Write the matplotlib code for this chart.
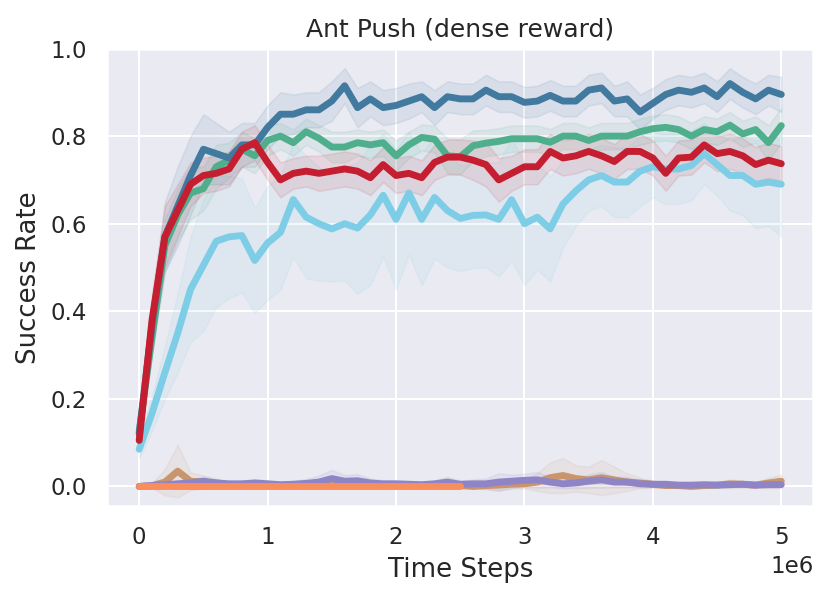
import numpy as np
import matplotlib
matplotlib.use('Agg')
import matplotlib.pyplot as plt
import seaborn as sns

# time axis, 0 .. 5e6 in steps of 1e5
steps = np.arange(51) * 1e5

# mean success rate per method
dark_blue = [0.12, 0.37, 0.57, 0.64, 0.71, 0.77, 0.76, 0.75, 0.78, 0.78,
             0.82, 0.85, 0.85, 0.86, 0.86, 0.88, 0.915, 0.865, 0.885, 0.865,
             0.87, 0.88, 0.89, 0.865, 0.89, 0.885, 0.885, 0.905, 0.89, 0.89,
             0.877, 0.88, 0.893, 0.88, 0.88, 0.905, 0.91, 0.88, 0.885, 0.855,
             0.875, 0.895, 0.905, 0.90, 0.91, 0.89, 0.92, 0.90, 0.885, 0.905,
             0.895]
green = [0.125, 0.34, 0.55, 0.62, 0.67, 0.68, 0.73, 0.745, 0.77, 0.755,
         0.79, 0.80, 0.785, 0.81, 0.795, 0.775, 0.775, 0.785, 0.78, 0.785,
         0.755, 0.78, 0.797, 0.793, 0.755, 0.753, 0.778, 0.784, 0.788, 0.794,
         0.794, 0.794, 0.786, 0.80, 0.80, 0.79, 0.80, 0.80, 0.80, 0.81,
         0.817, 0.82, 0.815, 0.80, 0.815, 0.81, 0.825, 0.805, 0.815, 0.785,
         0.824]
red = [0.105, 0.38, 0.57, 0.63, 0.69, 0.71, 0.715, 0.725, 0.77, 0.785,
       0.74, 0.70, 0.715, 0.72, 0.715, 0.72, 0.725, 0.72, 0.705, 0.735,
       0.71, 0.715, 0.705, 0.74, 0.752, 0.752, 0.745, 0.735, 0.70, 0.715,
       0.73, 0.73, 0.765, 0.75, 0.755, 0.765, 0.755, 0.742, 0.765, 0.765,
       0.75, 0.715, 0.75, 0.752, 0.78, 0.76, 0.765, 0.755, 0.735, 0.745,
       0.737]
light_blue = [0.085, 0.167, 0.26, 0.35, 0.45, 0.505, 0.56, 0.57, 0.573, 0.516,
              0.556, 0.58, 0.655, 0.615, 0.60, 0.588, 0.60, 0.59, 0.62, 0.665,
              0.61, 0.67, 0.61, 0.66, 0.63, 0.612, 0.619, 0.62, 0.61, 0.655,
              0.60, 0.615, 0.588, 0.645, 0.675, 0.70, 0.71, 0.695, 0.695, 0.72,
              0.73, 0.725, 0.725, 0.733, 0.76, 0.735, 0.71, 0.71, 0.69, 0.695,
              0.69]
tan = [0.0, 0.002, 0.01, 0.035, 0.012, 0.01, 0.008, 0.004, 0.003, 0.002,
       0.002, 0.002, 0.002, 0.002, 0.002, 0.002, 0.002, 0.002, 0.002, 0.002,
       0.002, 0.002, 0.002, 0.002, 0.002, 0.002, 0.0, 0.002, 0.003, 0.005,
       0.006, 0.01, 0.02, 0.025, 0.018, 0.015, 0.02, 0.015, 0.01, 0.008,
       0.005, 0.002, 0.002, 0.0, 0.002, 0.003, 0.006, 0.005, 0.003, 0.008,
       0.012]
purple = [0.0, 0.002, 0.004, 0.006, 0.008, 0.012, 0.008, 0.006, 0.006, 0.008,
          0.006, 0.004, 0.005, 0.007, 0.01, 0.018, 0.012, 0.013, 0.008, 0.006,
          0.006, 0.005, 0.004, 0.006, 0.01, 0.005, 0.006, 0.006, 0.01, 0.012,
          0.014, 0.015, 0.01, 0.006, 0.008, 0.012, 0.015, 0.01, 0.01, 0.006,
          0.005, 0.005, 0.003, 0.003, 0.004, 0.003, 0.004, 0.005, 0.003, 0.004,
          0.004]
# orange run stops at 2.5e6
orange = [0.0] * 26

# spread of the shaded bands
dark_blue_sd = [0.01, 0.05, 0.08, 0.09, 0.09, 0.08, 0.07, 0.06, 0.05, 0.05,
                0.05, 0.05, 0.045, 0.04, 0.04, 0.045, 0.04, 0.045, 0.04, 0.04,
                0.04, 0.04, 0.035, 0.04, 0.035, 0.035, 0.035, 0.035, 0.035, 0.035,
                0.035, 0.035, 0.035, 0.035, 0.035, 0.035, 0.035, 0.035, 0.04, 0.04,
                0.035, 0.035, 0.035, 0.035, 0.035, 0.035, 0.035, 0.035, 0.035, 0.035,
                0.04]
green_sd = [0.01, 0.04, 0.06, 0.06, 0.06, 0.05, 0.05, 0.04, 0.04, 0.04,
            0.035, 0.03, 0.03, 0.03, 0.03, 0.035, 0.035, 0.03, 0.03, 0.03,
            0.035, 0.03, 0.03, 0.03, 0.04, 0.04, 0.035, 0.03, 0.03, 0.03,
            0.03, 0.03, 0.03, 0.03, 0.03, 0.03, 0.03, 0.03, 0.03, 0.03,
            0.03, 0.03, 0.03, 0.03, 0.03, 0.03, 0.03, 0.03, 0.03, 0.04,
            0.04]
red_sd = [0.01, 0.06, 0.07, 0.06, 0.05, 0.04, 0.04, 0.04, 0.04, 0.04,
          0.04, 0.04, 0.035, 0.035, 0.04, 0.04, 0.04, 0.04, 0.04, 0.04,
          0.04, 0.04, 0.04, 0.04, 0.04, 0.04, 0.045, 0.05, 0.05, 0.04,
          0.04, 0.04, 0.04, 0.04, 0.04, 0.04, 0.04, 0.04, 0.04, 0.04,
          0.04, 0.04, 0.04, 0.04, 0.04, 0.04, 0.04, 0.04, 0.04, 0.04,
          0.04]
light_blue_sd = [0.02, 0.04, 0.06, 0.09, 0.12, 0.15, 0.15, 0.14, 0.13, 0.12,
                 0.13, 0.13, 0.13, 0.14, 0.13, 0.12, 0.13, 0.15, 0.16, 0.14,
                 0.16, 0.14, 0.15, 0.14, 0.13, 0.12, 0.12, 0.12, 0.13, 0.14,
                 0.14, 0.12, 0.12, 0.10, 0.08, 0.07, 0.07, 0.08, 0.08, 0.08,
                 0.07, 0.08, 0.08, 0.08, 0.07, 0.07, 0.08, 0.09, 0.10, 0.10,
                 0.12]
tan_sd = [0.0, 0.005, 0.03, 0.06, 0.02, 0.015, 0.01, 0.006, 0.004, 0.003,
          0.003, 0.003, 0.003, 0.003, 0.004, 0.004, 0.004, 0.003, 0.003, 0.003,
          0.003, 0.003, 0.003, 0.003, 0.003, 0.003, 0.004, 0.008, 0.012, 0.01,
          0.01, 0.02, 0.035, 0.04, 0.03, 0.03, 0.04, 0.03, 0.02, 0.012,
          0.008, 0.005, 0.004, 0.004, 0.005, 0.006, 0.01, 0.008, 0.006, 0.012,
          0.015]
purple_sd = [0.0, 0.003, 0.005, 0.008, 0.008, 0.01, 0.008, 0.006, 0.006, 0.008,
             0.008, 0.006, 0.008, 0.01, 0.015, 0.02, 0.014, 0.015, 0.01, 0.008,
             0.008, 0.007, 0.006, 0.008, 0.012, 0.008, 0.01, 0.012, 0.02, 0.015,
             0.015, 0.018, 0.012, 0.01, 0.012, 0.015, 0.018, 0.012, 0.012, 0.008,
             0.006, 0.006, 0.004, 0.004, 0.005, 0.004, 0.005, 0.006, 0.004, 0.005,
             0.005]

SERIES = [
    (tan,        tan_sd,        '#c8956d'),
    (purple,     purple_sd,     '#8e84c6'),
    (light_blue, light_blue_sd, '#7ecde6'),
    (green,      green_sd,      '#4fae8b'),
    (dark_blue,  dark_blue_sd,  '#41799f'),
    (red,        red_sd,        '#c41e30'),
]

sns.set_theme(style='darkgrid')
plt.rcParams['font.family'] = ['DejaVu Sans']
plt.rcParams['axes.labelsize'] = 12.5

fig = plt.figure(figsize=(830 / 150, 599 / 150), dpi=150)
ax = fig.add_axes([0.129, 0.155, 0.851, 0.764])

for mean, sd, color in SERIES:
    mean = np.array(mean)
    sd = np.array(sd)
    ax.fill_between(steps, mean - sd, mean + sd, color=color, alpha=0.1,
                    linewidth=0.8)
    ax.plot(steps, mean, color=color, linewidth=3.3,
            solid_capstyle='round', solid_joinstyle='round')

ax.plot(steps[:len(orange)], orange, color='#f98d5c', linewidth=3.3,
        solid_capstyle='round')

ax.set_xlim(-0.25e6, 5.25e6)
ax.set_ylim(-0.045, 1.0)
ax.set_title('Ant Push (dense reward)')
ax.set_xlabel('Time Steps')
ax.set_ylabel('Success Rate')

fig.savefig('out.png', dpi=150)
